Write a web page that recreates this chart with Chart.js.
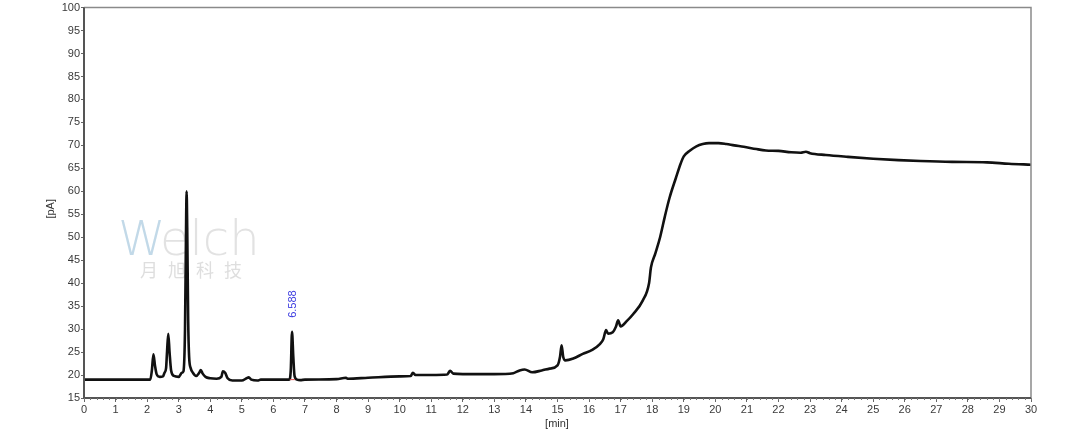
<!DOCTYPE html>
<html>
<head>
<meta charset="utf-8">
<script src="https://cdn.jsdelivr.net/npm/chart.js@4"></script>
<style>
  html, body { margin: 0; padding: 0; background: #fff; }
  #wrap { width: 1080px; height: 434px; }
</style>
</head>
<body>
<div id="wrap"><canvas id="chrom" width="1080" height="434"></canvas></div>
<script>
// retention time (min) and detector signal (pA)
const times = [
  0, 2.1, 2.15, 2.2, 2.25, 2.3, 2.4, 2.5, 2.55, 2.6, 2.63, 2.67, 2.71, 2.76, 2.85,
  3.0, 3.1, 3.15, 3.2, 3.23, 3.25, 3.27, 3.3, 3.33, 3.38, 3.45, 3.55, 3.65, 3.7, 3.76,
  3.85, 4.0, 4.2, 4.35, 4.4, 4.47, 4.55, 4.7, 5.0, 5.15, 5.22, 5.3, 5.5, 5.6,
  6.5, 6.55, 6.59, 6.63, 6.67, 6.75, 6.85, 7.0, 8.0, 8.3, 8.35, 9.0, 10.0, 10.35,
  10.42, 10.5, 11.0, 11.5, 11.6, 11.7, 12.0, 13.0, 13.6, 13.8, 13.96, 14.2, 14.5,
  14.75, 15.0, 15.08, 15.13, 15.18, 15.25, 15.5, 15.8, 16.1, 16.35, 16.45, 16.54,
  16.6, 16.75, 16.85, 16.92, 17.0, 17.2, 17.4, 17.7, 17.9, 17.96, 18.1, 18.25, 18.4,
  18.55, 18.75, 18.9, 19.0, 19.2, 19.4, 19.6, 19.8, 20.1, 20.35, 20.6, 20.9, 21.3,
  21.6, 22.0, 22.4, 22.7, 22.87, 23.0, 23.5, 24.2, 25.0, 25.8, 26.5, 27.5, 28.6,
  29.3, 30.0
];
const signal = [
  19.0, 19.0, 21.0, 24.5, 22.0, 20.2, 19.6, 19.7, 20.5, 21.5, 25.0, 29.0, 25.0, 21.0, 19.8,
  19.6, 20.5, 20.8, 30.0, 50.0, 60.0, 52.0, 32.0, 24.0, 21.5, 20.5, 19.8, 20.5, 21.1, 20.3,
  19.6, 19.3, 19.2, 19.6, 20.8, 20.5, 19.3, 18.8, 18.8, 19.3, 19.5, 19.0, 18.8, 19.0,
  19.0, 21.0, 29.4, 24.0, 19.8, 19.0, 18.9, 19.0, 19.1, 19.4, 19.2, 19.4, 19.7, 19.8,
  20.5, 20.0, 20.0, 20.1, 20.9, 20.3, 20.2, 20.2, 20.4, 21.0, 21.2, 20.6, 21.0,
  21.4, 22.1, 24.0, 26.5, 24.0, 23.2, 23.6, 24.6, 25.5, 26.8, 27.8, 29.8,
  29.0, 29.3, 30.5, 31.9, 30.6, 31.8, 33.3, 36.2, 40.0, 43.4, 46.5, 50.0, 54.5,
  58.6, 62.9, 66.0, 67.6, 68.9, 69.8, 70.3, 70.5, 70.5, 70.3, 70.0, 69.7, 69.2,
  68.9, 68.8, 68.5, 68.4, 68.6, 68.3, 67.9, 67.5, 67.1, 66.8, 66.6, 66.4, 66.3,
  66.0, 65.8
];

// integration baseline under the labelled peak
const peakBaseTimes = [6.52, 6.68];
const peakBaseValues = [19.0, 19.0];
const peakLabel = { time: 6.588, value: 29.4, text: "6.588" };

const xTicks = [0, 30, 1];   // min, max, step
const yTicks = [15, 100, 5];

const FONT = "'Liberation Sans', Arial, sans-serif";

function toPoints(xs, ys) {
  return xs.map((x, i) => ({ x: x, y: ys[i] }));
}

const decorations = {
  id: "decorations",
  beforeDatasetsDraw(chart) {
    const ctx = chart.ctx;
    ctx.save();
    // faint watermark
    ctx.textBaseline = "alphabetic";
    ctx.font = "300 48px 'DejaVu Sans', sans-serif";
    ctx.fillStyle = "rgba(120,170,205,0.45)";
    ctx.fillText("W", 118, 255);
    ctx.fillStyle = "rgba(190,190,190,0.45)";
    ctx.fillText("elch", 160, 255);
    ctx.font = "18px 'Noto Sans CJK SC', sans-serif";
    ctx.fillStyle = "rgba(190,190,190,0.5)";
    const chars = ["月", "旭", "科", "技"];
    chars.forEach((c, i) => ctx.fillText(c, 140 + i * 28, 277));
    ctx.restore();
  },
  afterDraw(chart) {
    const ctx = chart.ctx;
    const a = chart.chartArea;
    const xs = chart.scales.x;
    const ys = chart.scales.y;
    ctx.save();
    // frame
    ctx.strokeStyle = "#8a8a8a";
    ctx.lineWidth = 1.5;
    ctx.beginPath();
    ctx.moveTo(a.left, a.top);
    ctx.lineTo(a.right, a.top);
    ctx.lineTo(a.right, a.bottom);
    ctx.stroke();
    ctx.strokeStyle = "#555";
    ctx.lineWidth = 2;
    ctx.beginPath();
    ctx.moveTo(a.left, a.top);
    ctx.lineTo(a.left, a.bottom);
    ctx.lineTo(a.right, a.bottom);
    ctx.stroke();
    // minor ticks on the time axis
    ctx.strokeStyle = "#777";
    ctx.lineWidth = 1;
    ctx.beginPath();
    for (let t = xTicks[0]; t <= xTicks[1] + 1e-9; t += 0.2) {
      const px = Math.round(xs.getPixelForValue(t)) + 0.5;
      ctx.moveTo(px, a.bottom);
      ctx.lineTo(px, a.bottom + 2);
    }
    ctx.stroke();
    // axis titles
    ctx.fillStyle = "#333";
    ctx.font = "11px " + FONT;
    ctx.textAlign = "center";
    ctx.textBaseline = "middle";
    ctx.fillText("[min]", (a.left + a.right) / 2 - 0.5, 424);
    ctx.save();
    ctx.translate(51, (a.top + a.bottom) / 2 + 6);
    ctx.rotate(-Math.PI / 2);
    ctx.fillText("[pA]", 0, 0);
    ctx.restore();
    // peak label
    const px = xs.getPixelForValue(peakLabel.time);
    const py = ys.getPixelForValue(peakLabel.value);
    ctx.save();
    ctx.translate(px + 1, py - 14);
    ctx.rotate(-Math.PI / 2);
    ctx.fillStyle = "#3a3ae0";
    ctx.font = "11px " + FONT;
    ctx.textAlign = "left";
    ctx.textBaseline = "middle";
    ctx.fillText(peakLabel.text, 0, 0);
    ctx.restore();
    ctx.restore();
  }
};

new Chart(document.getElementById("chrom"), {
  type: "line",
  data: {
    datasets: [
      {
        data: toPoints(peakBaseTimes, peakBaseValues),
        borderColor: "#e05050",
        borderWidth: 1,
        pointRadius: 0
      },
      {
        data: toPoints(times, signal),
        borderColor: "#111",
        borderWidth: 2.6,
        pointRadius: 0,
        cubicInterpolationMode: "monotone"
      }
    ]
  },
  plugins: [decorations],
  options: {
    responsive: false,
    animation: false,
    layout: { padding: { left: 0, right: 49, top: 3, bottom: 0 } },
    plugins: { legend: { display: false }, tooltip: { enabled: false } },
    scales: {
      x: {
        type: "linear",
        min: xTicks[0],
        max: xTicks[1],
        ticks: { stepSize: xTicks[2], color: "#3a3a3a", font: { family: FONT, size: 11 }, padding: 1, maxRotation: 0 },
        grid: { display: true, drawOnChartArea: false, drawTicks: true, tickLength: 4, color: "#666" },
        border: { display: false },
        afterFit(scale) { scale.height = 36; }
      },
      y: {
        min: yTicks[0],
        max: yTicks[1],
        ticks: { stepSize: yTicks[2], color: "#3a3a3a", font: { family: FONT, size: 11 }, padding: 1 },
        grid: { display: true, drawOnChartArea: false, drawTicks: true, tickLength: 3, color: "#666" },
        border: { display: false },
        afterFit(scale) { scale.width = 84; }
      }
    }
  }
});
</script>
</body>
</html>
